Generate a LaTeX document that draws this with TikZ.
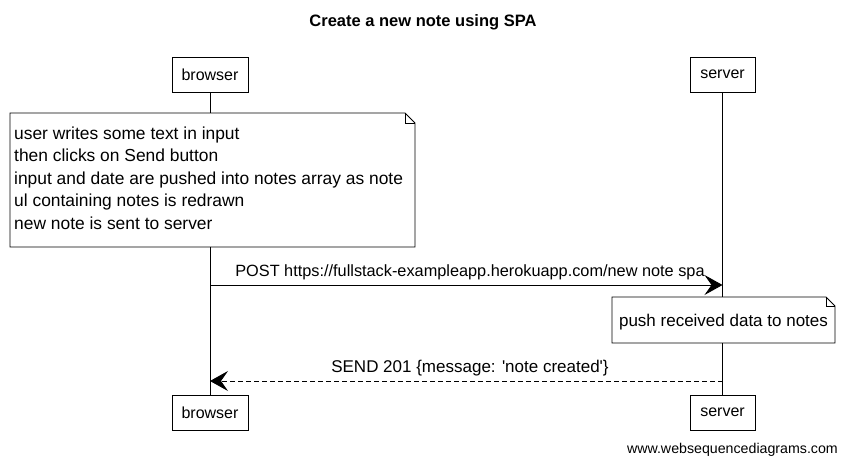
\documentclass[tikz,border=0pt]{standalone}
\usepackage{fontspec}
\setmainfont{Liberation Sans}[Ligatures=TeXOff]
\usetikzlibrary{arrows.meta,positioning}
\begin{document}
\begin{tikzpicture}[x=1pt,y=-1pt,
  actor/.style={draw,line width=0.8pt,minimum width=76pt,minimum height=35pt,inner sep=0pt,font=\fontsize{16}{18}\selectfont},
  life/.style={line width=0.7pt},
  msg/.style={line width=0.9pt,-{Stealth[length=18pt,width=20pt,inset=7pt]}},
  lbl/.style={font=\fontsize{16.5}{18}\selectfont,inner sep=0pt},
  noteline/.style={lbl,anchor=base west,font=\fontsize{17.4}{20}\selectfont}
]
\useasboundingbox (0,0) rectangle (846,465);
\node[font=\bfseries\fontsize{16.5}{18}\selectfont] (title) at (423,22) {Create a new note using SPA};
% actors
\node[actor] (bt) at (210,74.5) {browser};
\node[actor,minimum width=65pt] (st) at (722.5,74.5) {server};
\node[actor] (bb) at (210,412.5) {browser};
\node[actor,minimum width=65pt] (sb) at (722.5,412.5) {server};
% note 1
\draw[line width=0.8pt,fill=white] (10,113) -- (405,113) -- (415,123) -- (415,247) -- (10,247) -- cycle;
\draw[line width=0.6pt] (405,113) -- (405,123) -- (415,123);
\node[noteline] (n1a) at (14,139.5) {user writes some text in input};
\node[noteline] (n1b) at (14,162) {then clicks on Send button};
\node[noteline] (n1c) at (14,184.5) {input and date are pushed into notes array as note};
\node[noteline] (n1d) at (14,207) {ul containing notes is redrawn};
\node[noteline] (n1e) at (14,229.5) {new note is sent to server};
% note 2
\draw[line width=0.8pt,fill=white] (612,297) -- (826,297) -- (835,306) -- (835,343) -- (612,343) -- cycle;
\draw[line width=0.6pt] (826,297) -- (826,306) -- (835,306);
\node[lbl,font=\fontsize{17}{18}\selectfont] (note2) at (723.5,322) {push received data to notes};
% lifelines
\coordinate (b1) at (210,113);
\coordinate (b2) at (210,247);
\coordinate (s1) at (722.5,297);
\coordinate (s2) at (722.5,343);
\draw[life] (bt.south) -- (b1);
\draw[life] (b2) -- (bb.north);
\draw[life] (st.south) -- (s1);
\draw[life] (s2) -- (sb.north);
% messages
\coordinate (p1) at (210,285);
\coordinate (p2) at (722.5,285);
\draw[msg] (p1) -- (p2);
\node[lbl,font=\fontsize{16.3}{18}\selectfont] (postl) at (470,272) {POST https://fullstack-exampleapp.herokuapp.com/new note spa};
\coordinate (r1) at (722.5,381);
\coordinate (r2) at (210,381);
\draw[msg,dash pattern=on 5pt off 3pt] (r1) -- (r2);
\node[lbl,font=\fontsize{17}{18}\selectfont] (sendl) at (470,368) {SEND 201 \{message: 'note created'\}};
% watermark
\node[anchor=east,inner sep=0pt,font=\fontsize{14.2}{16}\selectfont] (wm) at (838,450) {www.websequencediagrams.com};
\end{tikzpicture}
\end{document}
